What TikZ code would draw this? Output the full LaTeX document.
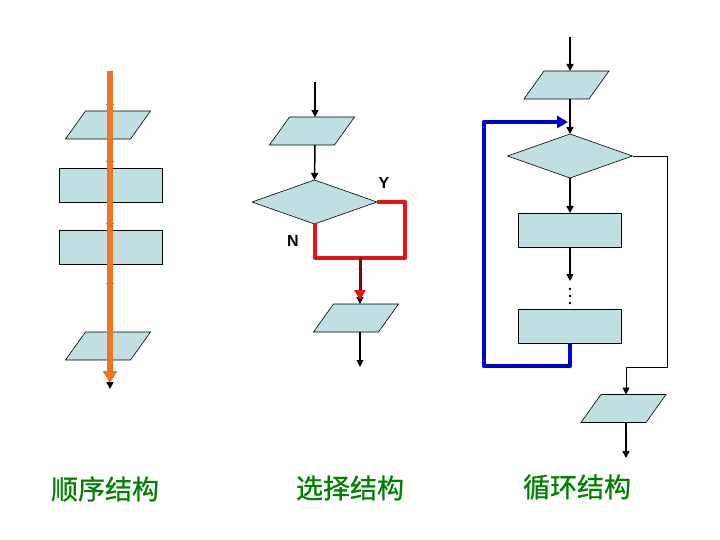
\documentclass[tikz,border=0pt]{standalone}
\usepackage{fontspec}
\setmainfont{Liberation Sans}
\newfontfamily\cjk[FakeBold=0.8]{Noto Sans CJK SC}
\usetikzlibrary{shapes.geometric,arrows.meta}
\definecolor{boxfill}{RGB}{191,223,227}
\definecolor{orangeline}{RGB}{238,118,34}
\definecolor{redline}{RGB}{232,20,20}
\definecolor{darkredline}{RGB}{120,10,10}
\definecolor{blueline}{RGB}{0,0,210}
\definecolor{labelgreen}{RGB}{0,128,0}
\tikzset{
  para/.style={rectangle, minimum width=85, minimum height=28, inner sep=0pt, outer sep=0pt},
  parashape/.style={draw=black, line width=0.6pt, fill=boxfill},
  procbox/.style={rectangle, draw=black, line width=0.6pt, fill=boxfill,
    minimum width=103, minimum height=34, inner sep=0pt, outer sep=0pt},
  decision/.style={diamond, draw=black, line width=0.6pt, fill=boxfill,
    minimum width=125, minimum height=44, inner sep=0pt, outer sep=0pt},
  flow/.style={draw=black, line width=1.5pt, -{Triangle[length=7pt,width=7pt]}},
  thinflow/.style={draw=black, line width=0.8pt, -{Triangle[length=7pt,width=7pt]}},
  yn/.style={font=\bfseries\fontsize{16}{18}\selectfont},
  caption/.style={text=labelgreen, font=\cjk\fontsize{27}{30}\selectfont}
}
\newcommand{\drawpara}[1]{\draw[parashape] ([xshift=20pt]#1.north west) -- (#1.north east) -- ([xshift=-20pt]#1.south east) -- (#1.south west) -- cycle;}
\begin{document}
\begin{tikzpicture}[x=1pt,y=-1pt]
\useasboundingbox (0,0) rectangle (720,540);
% ---------- left: sequence ----------
\node[para] (lp1) at (108,125) {};
\drawpara{lp1}
\node[procbox] (lr1) at (110.5,185) {};
\node[procbox] (lr2) at (110.5,247) {};
\node[para] (lp2) at (108,346) {};
\drawpara{lp2}
\coordinate (ltop) at (110,71);
\coordinate (lgap) at (110,290);
\coordinate (lend) at (110,389);
\draw[flow] (ltop) -- (lp1.north -| ltop);
\draw[flow] (lp1.south -| ltop) -- (lr1.north -| ltop);
\draw[flow] (lr1.south -| ltop) -- (lr2.north -| ltop);
\draw[flow] (lr2.south -| ltop) -- (lgap);
\draw[flow] (lp2.south -| ltop) -- (lend);
\draw[orangeline, line width=5.5pt, -{Triangle[length=12pt,width=14pt]}] (ltop) -- ([yshift=6pt]lend);
\node[caption] (c1) at (105,489) {顺序结构};
% ---------- middle: selection ----------
\node[para] (mp1) at (312,131) {};
\drawpara{mp1}
\node[decision] (md) at (314.5,202) {};
\node[para] (mp2) at (356,318) {};
\drawpara{mp2}
\coordinate (mtop) at (315,82);
\coordinate (mright) at (405,202);
\coordinate (mcorner) at (405,258);
\coordinate (mjoin) at (360,258);
\coordinate (mleft) at (315,258);
\coordinate (mend) at (360,367);
\draw[flow] (mtop) -- (mp1.north -| mtop);
\draw[flow] (mp1.south -| mtop) -- (md.north);
\draw[flow] (mjoin) -- (mp2.north -| mjoin);
\draw[redline, line width=4.5pt, line join=round] (md.east) -- (mright) -- (mcorner) -- (mleft) -- (md.south -| mleft);
\draw[darkredline, line width=3pt, -{Triangle[length=10pt,width=11pt,color=redline]}] (mjoin) -- ([yshift=4pt]mp2.north -| mjoin);
\draw[flow] (mp2.south -| mjoin) -- (mend);
\node[yn] (ylab) at (384,183) {Y};
\node[yn] (nlab) at (293,241) {N};
\node[caption] (c2) at (350,488) {选择结构};
% ---------- right: loop ----------
\node[para] (rp1) at (566.5,85) {};
\drawpara{rp1}
\node[decision] (rd) at (570,156) {};
\node[procbox] (rr1) at (569.5,230) {};
\node[procbox] (rr2) at (569.5,326) {};
\node[para] (rp3) at (623.5,408.5) {};
\drawpara{rp3}
\coordinate (rtop) at (570,37);
\coordinate (rgap) at (570,281);
\coordinate (rbl) at (570,366);
\coordinate (rbll) at (484,366);
\coordinate (rtl) at (484,122);
\coordinate (rarr) at (568,122);
\coordinate (rex1) at (667,156);
\coordinate (rex2) at (667,367);
\coordinate (rex3) at (626,367);
\coordinate (rend) at (626,458);
\draw[flow] (rtop) -- (rp1.north -| rtop);
\draw[flow] (rp1.south -| rtop) -- (rd.north);
\draw[flow] (rd.south) -- (rr1.north -| rtop);
\draw[flow] (rr1.south -| rtop) -- (rgap);
\foreach \yy in {289,296,303} \fill[black] (570,\yy) circle (1.4);
\draw[blueline, line width=4.5pt, line join=round, -{Triangle[length=11pt,width=12pt]}] (rr2.south -| rtop) -- (rbl) -- (rbll) -- (rtl) -- (rarr);
\draw[thinflow] (rd.east) -- (rex1) -- (rex2) -- (rex3) -- (rp3.north -| rex3);
\draw[flow] (rp3.south -| rex3) -- (rend);
\node[caption] (c3) at (577,487) {循环结构};
\end{tikzpicture}
\end{document}
